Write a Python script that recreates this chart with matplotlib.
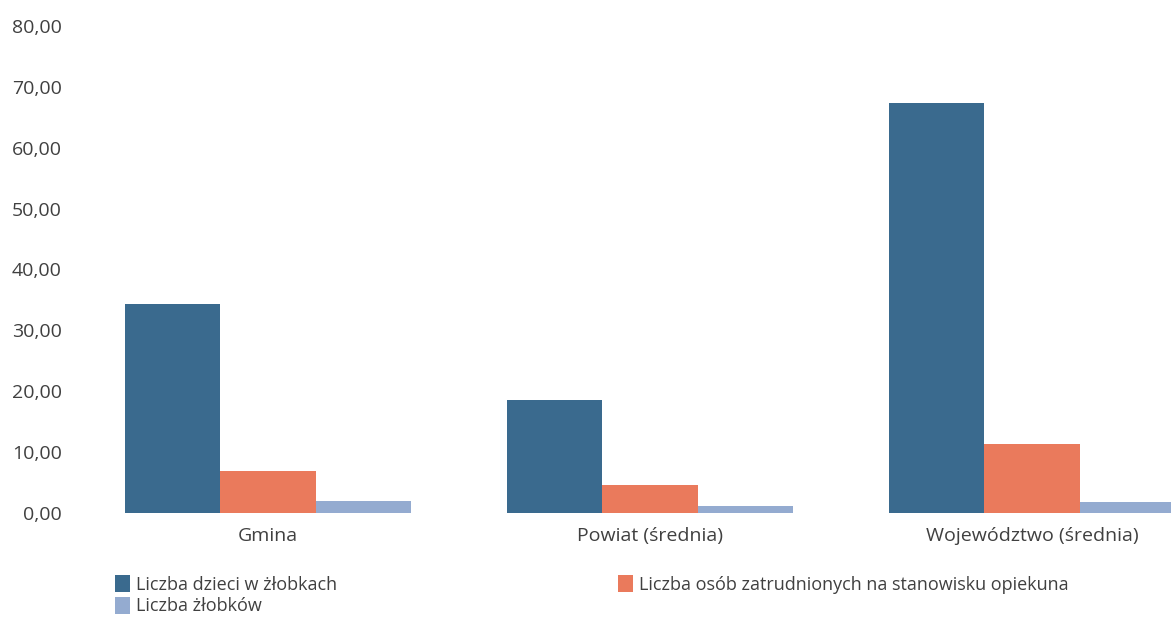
import numpy as np
import matplotlib
matplotlib.use("Agg")
import matplotlib.pyplot as plt
from matplotlib.patches import Patch

plt.rcParams['font.family'] = ['Open Sans', 'DejaVu Sans']

categories = ["Gmina", "Powiat (średnia)", "Województwo (średnia)"]
series_names = ["Liczba dzieci w żłobkach",
                "Liczba osób zatrudnionych na stanowisku opiekuna",
                "Liczba żłobków"]
dzieci = [34.3, 18.6, 67.4]
opiekunowie = [6.9, 4.6, 11.3]
zlobki = [1.9, 1.1, 1.8]
yticks = [0, 10, 20, 30, 40, 50, 60, 70, 80]

colors = ["#3a6a8e", "#ea7a5c", "#94abd0"]
text_col = "#404040"

W, H = 1171, 618
fig = plt.figure(figsize=(W / 100, H / 100), dpi=100)
ax = fig.add_axes([77 / W, 105 / H, (W - 77) / W, 487 / H])

x = np.arange(len(categories))
bw = 0.25
for i, vals in enumerate([dzieci, opiekunowie, zlobki]):
    ax.bar(x + (i - 1) * bw, vals, width=bw, color=colors[i], linewidth=0)

ax.set_xlim(-0.5, 2.364)
ax.set_ylim(0, 80)
ax.set_yticks(yticks)
ax.set_yticklabels([f"{v:.2f}".replace(".", ",") for v in yticks])
ax.set_xticks(x)
ax.set_xticklabels(categories)
ax.tick_params(axis='y', length=0, pad=11, labelsize=14, labelcolor=text_col)
ax.tick_params(axis='x', length=0, pad=10, labelsize=14, labelcolor=text_col)
for s in ax.spines.values():
    s.set_visible(False)

h = [Patch(facecolor=c, edgecolor='none') for c in colors]
fig.legend([h[0], h[2]], [series_names[0], series_names[2]],
           loc='upper left', bbox_to_anchor=(106 / W, 1 - 566 / H),
           frameon=False, fontsize=13, handlelength=0.85, handleheight=1.1,
           handletextpad=0.3, labelspacing=0.15, borderpad=0,
           labelcolor=text_col)
fig.legend([h[1]], [series_names[1]],
           loc='upper left', bbox_to_anchor=(609 / W, 1 - 566 / H),
           frameon=False, fontsize=13, handlelength=0.85, handleheight=1.1,
           handletextpad=0.3, borderpad=0, labelcolor=text_col)

fig.savefig("out.png", dpi=100, facecolor="white")
